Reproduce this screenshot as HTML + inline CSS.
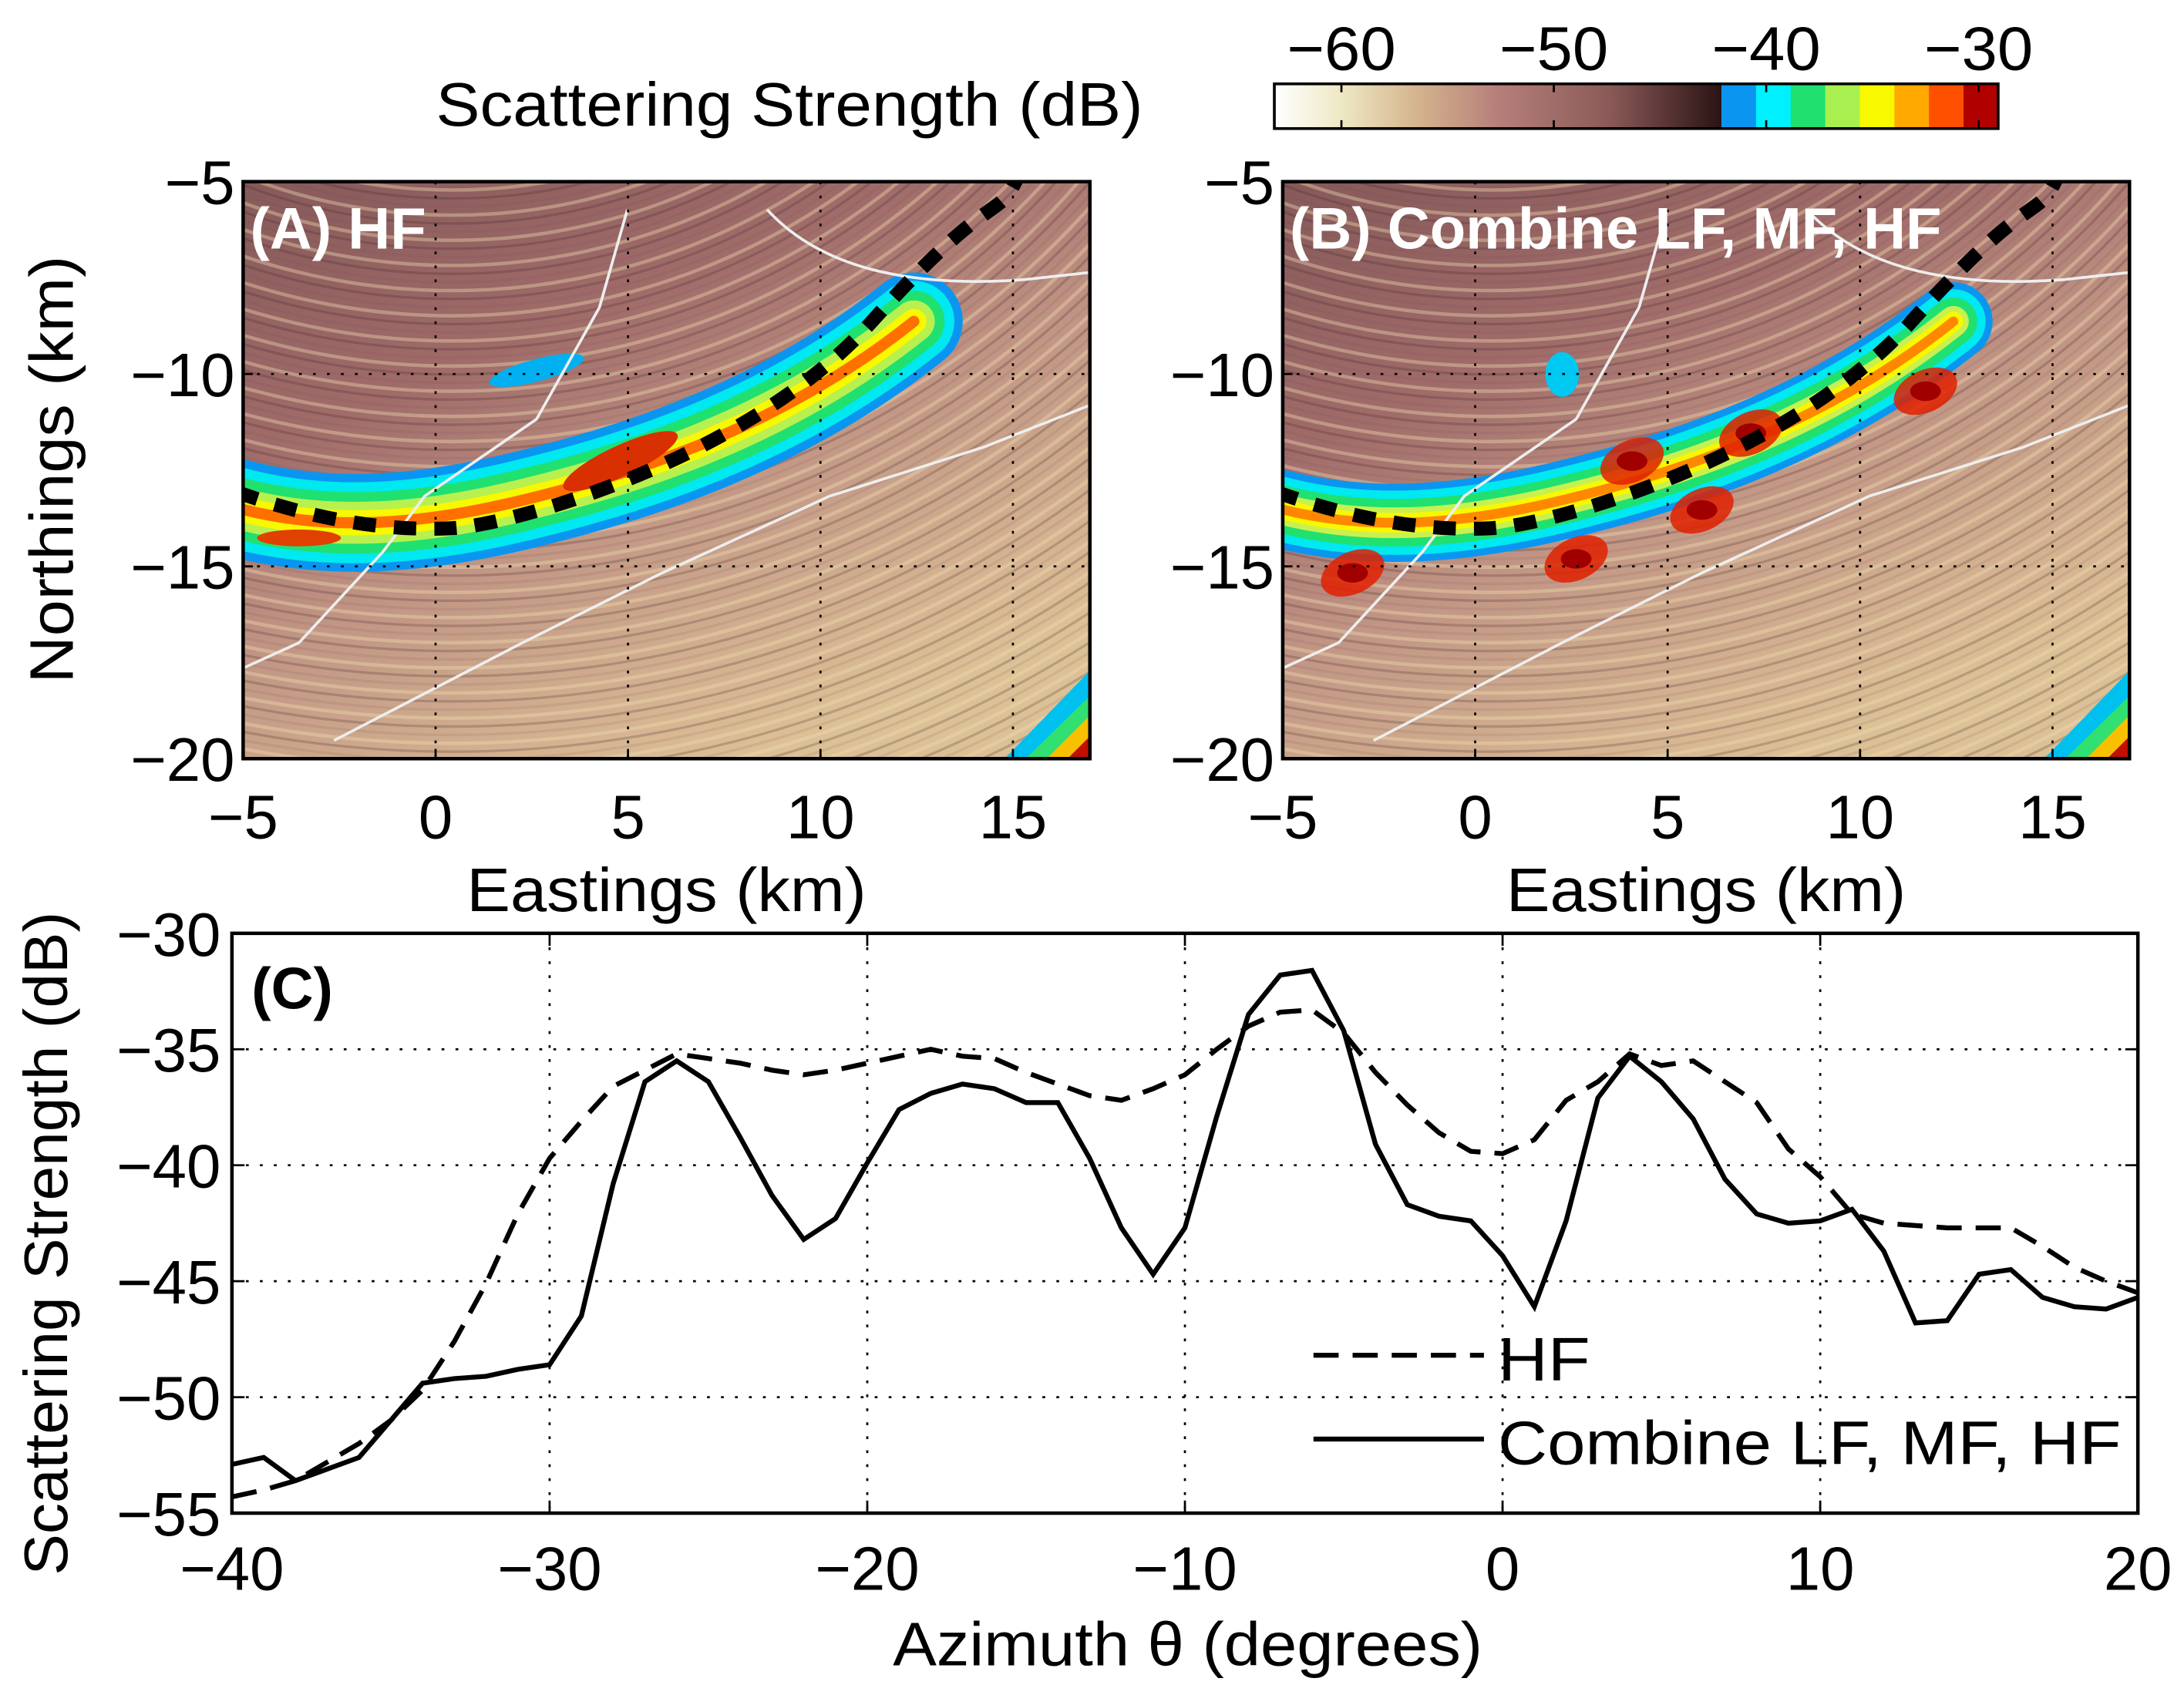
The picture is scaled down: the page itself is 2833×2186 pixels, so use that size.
<!DOCTYPE html>
<html><head><meta charset="utf-8"><style>
html,body{margin:0;padding:0;background:#fff}
svg{display:block}
text{font-family:"Liberation Sans",sans-serif}
</style></head><body>
<svg id="fig" width="2833" height="2186" viewBox="0 0 1563 1206" xmlns="http://www.w3.org/2000/svg">
<defs>
<linearGradient id="cbg" x1="0" x2="1" y1="0" y2="0">
<stop offset="0" stop-color="#ffffff"/><stop offset="0.15" stop-color="#eee8c4"/><stop offset="0.32" stop-color="#d4b48e"/><stop offset="0.5" stop-color="#b67f7a"/><stop offset="0.75" stop-color="#8a5a58"/><stop offset="1" stop-color="#2a1414"/>
</linearGradient>
<linearGradient id="bgA" x1="0" y1="0" x2="0.6" y2="1">
<stop offset="0" stop-color="#86595a"/><stop offset="0.35" stop-color="#a06c6a"/><stop offset="0.6" stop-color="#c09484"/><stop offset="1" stop-color="#dcc096"/>
</linearGradient>
<clipPath id="clipA"><rect x="174" y="130" width="606" height="413"/></clipPath>
<clipPath id="clipB"><rect x="918" y="130" width="606" height="413"/></clipPath>
</defs>

<g id="panelA"></g>
<g id="panelB"></g>

<g>
<text x="565" y="90" font-size="44" text-anchor="middle" textLength="506" lengthAdjust="spacingAndGlyphs">Scattering Strength (dB)</text>
<rect x="912" y="60" width="320" height="32" fill="url(#cbg)"/>
<g id="cbDisc"></g>
<rect x="912" y="60" width="518" height="32" fill="none" stroke="#000" stroke-width="2"/>
<g id="cbTicks"></g>
</g>

<g id="panelC"></g>
</svg>
<script>
const NS="http://www.w3.org/2000/svg";
const svg=document.getElementById('fig');
function el(tag,attrs,parent){const e=document.createElementNS(NS,tag);for(const k in attrs)e.setAttribute(k,attrs[k]);(parent||svg).appendChild(e);return e;}

const cbTickVals=[-60,-50,-40,-30];
const cbColors=["#0a96f0","#00f0ff","#20e070","#a8f050","#f8f800","#ffa800","#ff5000","#b00000"];
const cbX=v=>960+(v+60)*15.2;
const cbDisc=document.getElementById('cbDisc');
cbColors.forEach((c,i)=>{const w=(1430-1232)/cbColors.length;
 const r=el('rect',{x:1232+i*w,y:60,width:w+0.5,height:32,fill:c},cbDisc);
 
 });
const cbT=document.getElementById('cbTicks');
cbTickVals.forEach(v=>{
 el('line',{x1:cbX(v),x2:cbX(v),y1:60,y2:66,stroke:'#000','stroke-width':1.5},cbT);
 el('line',{x1:cbX(v),x2:cbX(v),y1:92,y2:86,stroke:'#000','stroke-width':1.5},cbT);
 const t=el('text',{x:cbX(v),y:50,'font-size':44,'text-anchor':'middle',textLength:78,lengthAdjust:'spacingAndGlyphs'},cbT);
 t.textContent='\u2212'+Math.abs(v);
 
 
});

const mapXTicks=[-5,0,5,10,15];
const mapYTicks=[-5,-10,-15,-20];
function drawMap(gid,x0,clip,label,combined){
 const g=document.getElementById(gid);
 const W=606,H=413,y0=130;
 const X=v=>x0+(v+5)/22*W, Y=v=>y0+(-5-v)/15*H;
 const c=el('g',{'clip-path':'url(#'+clip+')'},g);
 el('rect',{x:x0,y:y0,width:W,height:H,fill:'url(#bgA)'},c);
 const cx=x0+150, cy=-260;
 for(let r=300;r<1100;r+=6){
  const k=r%18;
  const light=(k===0), dark=(k===6);
  el('circle',{cx:cx,cy:cy,r:r,fill:'none',stroke:light?'#f0dcb0':(dark?'#3a2020':'#7a4a48'),'stroke-opacity':light?0.4:(dark?0.22:0.12),'stroke-width':light?2.5:1.8},c);
 }
 const band=`M${x0-10},${y0+232} C${x0+60},${y0+252} ${x0+130},${y0+245} ${x0+200},${y0+228} S${x0+380},${y0+180} ${x0+480},${y0+100}`;
 const bandCols=combined?[['#0a96f0',56],['#00e8f0',46],['#20e070',34],['#c8f050',22],['#f8f800',14],['#ff8800',7]]
   :[['#0a96f0',70],['#00e8f0',58],['#20e070',44],['#b8f050',30],['#f8f800',18],['#ff7000',8]];
 bandCols.forEach(([col,w])=>el('path',{d:band,fill:'none',stroke:col,'stroke-width':w,'stroke-linecap':'round'},c));
 if(combined){
  [[x0+250,y0+200],[x0+335,y0+180],[x0+300,y0+235],[x0+460,y0+150],[x0+50,y0+280],[x0+210,y0+270]].forEach(([a,b])=>{
   el('ellipse',{cx:a,cy:b,rx:24,ry:15,fill:'#e02000','fill-opacity':0.85,transform:`rotate(-25 ${a} ${b})`},c);
   el('ellipse',{cx:a,cy:b,rx:11,ry:7,fill:'#a00000'},c);});
  el('ellipse',{cx:x0+200,cy:y0+138,rx:12,ry:16,fill:'#00c8f0'},c);
 } else {
  el('ellipse',{cx:x0+270,cy:y0+200,rx:45,ry:11,fill:'#d83000',transform:`rotate(-25 ${x0+270} ${y0+200})`},c);
  el('ellipse',{cx:x0+40,cy:y0+255,rx:30,ry:6,fill:'#e04000'},c);
  el('ellipse',{cx:x0+210,cy:y0+135,rx:35,ry:8,fill:'#00b0f0',transform:`rotate(-15 ${x0+210} ${y0+135})`},c);
 }
 el('path',{d:`M${x0+545},${y0+413} L${x0+606},${y0+350} L${x0+606},${y0+413}Z`,fill:'#00c0f0'},c);
 el('path',{d:`M${x0+560},${y0+413} L${x0+606},${y0+368} L${x0+606},${y0+413}Z`,fill:'#30e070'},c);
 el('path',{d:`M${x0+575},${y0+413} L${x0+606},${y0+382} L${x0+606},${y0+413}Z`,fill:'#f8c000'},c);
 el('path',{d:`M${x0+590},${y0+413} L${x0+606},${y0+397} L${x0+606},${y0+413}Z`,fill:'#c01000'},c);
 const cs={stroke:'#eeeeee','stroke-width':2,fill:'none'};
 el('path',Object.assign({d:`M${x0+275},${y0+20} L${x0+255},${y0+90} L${x0+210},${y0+170} L${x0+130},${y0+225} L${x0+100},${y0+265} L${x0+40},${y0+330} L${x0-15},${y0+355}`},cs),c);
 el('path',Object.assign({d:`M${x0+375},${y0+20} Q${x0+430},${y0+80} ${x0+560},${y0+70} L${x0+606},${y0+65}`},cs),c);
 el('path',Object.assign({d:`M${x0+65},${y0+400} L${x0+200},${y0+330} L${x0+300},${y0+280} L${x0+420},${y0+225} L${x0+530},${y0+190} L${x0+606},${y0+160}`},cs),c);
 el('path',{d:`M${x0-5},${y0+222} C${x0+60},${y0+245} ${x0+110},${y0+250} ${x0+150},${y0+248} S${x0+360},${y0+200} ${x0+450},${y0+100} S${x0+540},${y0+30} ${x0+555},${y0-5}`,fill:'none',stroke:'#000','stroke-width':10,'stroke-dasharray':'16 13'},c);
 mapXTicks.slice(1).forEach(v=>el('line',{x1:X(v),x2:X(v),y1:y0,y2:y0+H,stroke:'#000','stroke-width':1.5,'stroke-dasharray':'2 8'},g));
 [-10,-15].forEach(v=>el('line',{x1:x0,x2:x0+W,y1:Y(v),y2:Y(v),stroke:'#000','stroke-width':1.5,'stroke-dasharray':'2 8'},g));
 el('rect',{x:x0,y:y0,width:W,height:H,fill:'none',stroke:'#000','stroke-width':2.5},g);
 const lab=el('text',{x:x0+5,y:y0+48,'font-size':42,'font-weight':'bold',fill:'#fff'},g);
 lab.textContent=label;
 
 
 mapXTicks.forEach(v=>{
  el('line',{x1:X(v),x2:X(v),y1:y0+H,y2:y0+H-7,stroke:'#000','stroke-width':1.5},g);
  const t=el('text',{x:X(v),y:600,'font-size':44,'text-anchor':'middle'},g);
  t.textContent=(v<0?'\u2212':'')+Math.abs(v);
  
  
 });
 mapYTicks.forEach(v=>{
  el('line',{x1:x0,x2:x0+7,y1:Y(v),y2:Y(v),stroke:'#000','stroke-width':1.5},g);
  const t=el('text',{x:x0-6,y:Y(v)+16,'font-size':44,'text-anchor':'end'},g);
  t.textContent='\u2212'+Math.abs(v);
  
  
 });
 const xt=el('text',{x:x0+303,y:652,'font-size':44,'text-anchor':'middle',textLength:286,lengthAdjust:'spacingAndGlyphs'},g);
 xt.textContent='Eastings (km)';
 
 
}
drawMap('panelA',174,'clipA','(A) HF',false);
drawMap('panelB',918,'clipB','(B) Combine LF, MF, HF',true);
{const t=el('text',{x:0,y:0,'font-size':44,'text-anchor':'middle',textLength:306,lengthAdjust:'spacingAndGlyphs',transform:'translate(52,336) rotate(-90)'},document.getElementById('panelA'));
 t.textContent='Northings (km)';
 
 }

const azimuth=[-40,-39,-38,-37,-36,-35,-34,-33,-32,-31,-30,-29,-28,-27,-26,-25,-24,-23,-22,-21,-20,-19,-18,-17,-16,-15,-14,-13,-12,-11,-10,-9,-8,-7,-6,-5,-4,-3,-2,-1,0,1,2,3,4,5,6,7,8,9,10,11,12,13,14,15,16,17,18,19,20];
const combined=[-52.9,-52.6,-53.6,-53.1,-52.6,-51.0,-49.4,-49.2,-49.1,-48.8,-48.6,-46.5,-40.8,-36.4,-35.5,-36.4,-38.8,-41.3,-43.2,-42.3,-39.9,-37.6,-36.9,-36.5,-36.7,-37.3,-37.3,-39.7,-42.7,-44.7,-42.7,-37.9,-33.5,-31.8,-31.6,-34.2,-39.1,-41.7,-42.2,-42.4,-43.9,-46.1,-42.4,-37.1,-35.3,-36.4,-38.0,-40.6,-42.1,-42.5,-42.4,-41.9,-43.7,-46.8,-46.7,-44.7,-44.5,-45.7,-46.1,-46.2,-45.7];
const hf=[-54.3,-54.0,-53.6,-52.8,-52.0,-51.0,-49.7,-47.6,-45.1,-42.1,-39.7,-38.1,-36.6,-35.9,-35.2,-35.4,-35.6,-35.9,-36.1,-35.9,-35.6,-35.3,-35.0,-35.3,-35.4,-36.0,-36.5,-37.0,-37.2,-36.7,-36.1,-35.0,-34.0,-33.4,-33.3,-34.3,-36.0,-37.4,-38.6,-39.4,-39.5,-38.9,-37.2,-36.4,-35.2,-35.7,-35.5,-36.4,-37.3,-39.3,-40.5,-42.1,-42.5,-42.6,-42.7,-42.7,-42.7,-43.5,-44.4,-45.0,-45.5];
const cXTicks=[-40,-30,-20,-10,0,10,20];
const cYTicks=[-30,-35,-40,-45,-50,-55];
const cx0=166,cx1=1530,cy0=668,cy1=1083;
const CX=v=>cx0+(v+40)/60*(cx1-cx0);
const CY=v=>cy0+(-30-v)/25*(cy1-cy0);
const gC=document.getElementById('panelC');
cXTicks.slice(1,-1).forEach(v=>el('line',{x1:CX(v),x2:CX(v),y1:cy0,y2:cy1,stroke:'#000','stroke-width':1.5,'stroke-dasharray':'2 8'},gC));
cYTicks.slice(1,-1).forEach(v=>el('line',{x1:cx0,x2:cx1,y1:CY(v),y2:CY(v),stroke:'#000','stroke-width':1.5,'stroke-dasharray':'2 8'},gC));
el('rect',{x:cx0,y:cy0,width:cx1-cx0,height:cy1-cy0,fill:'none',stroke:'#000','stroke-width':2.5},gC);
cXTicks.forEach(v=>{
 el('line',{x1:CX(v),x2:CX(v),y1:cy1,y2:cy1-9,stroke:'#000','stroke-width':1.5},gC);
 el('line',{x1:CX(v),x2:CX(v),y1:cy0,y2:cy0+9,stroke:'#000','stroke-width':1.5},gC);
 const t=el('text',{x:CX(v),y:1138,'font-size':44,'text-anchor':'middle'},gC);
 t.textContent=(v<0?'\u2212':'')+Math.abs(v);
 
 
});
cYTicks.forEach(v=>{
 el('line',{x1:cx0,x2:cx0+9,y1:CY(v),y2:CY(v),stroke:'#000','stroke-width':1.5},gC);
 el('line',{x1:cx1,x2:cx1-9,y1:CY(v),y2:CY(v),stroke:'#000','stroke-width':1.5},gC);
 const t=el('text',{x:cx0-8,y:CY(v)+16,'font-size':44,'text-anchor':'end'},gC);
 t.textContent='\u2212'+Math.abs(v);
 
 
});
function pts(arr){return azimuth.map((a,i)=>CX(a)+','+CY(arr[i])).join(' ');}
const lh=el('polyline',{points:pts(hf),fill:'none',stroke:'#000','stroke-width':3.5,'stroke-dasharray':'18 10'},gC);


const lc=el('polyline',{points:pts(combined),fill:'none',stroke:'#000','stroke-width':3.5},gC);


const pl=el('text',{x:180,y:722,'font-size':42,'font-weight':'bold'},gC);
pl.textContent='(C)';


el('line',{x1:940,x2:1062,y1:970,y2:970,stroke:'#000','stroke-width':3.5,'stroke-dasharray':'18 10'},gC);
el('line',{x1:940,x2:1062,y1:1030,y2:1030,stroke:'#000','stroke-width':3.5},gC);
const l1=el('text',{x:1072,y:988,'font-size':44,textLength:66,lengthAdjust:'spacingAndGlyphs'},gC);
l1.textContent='HF';


const l2=el('text',{x:1072,y:1048,'font-size':44,textLength:446,lengthAdjust:'spacingAndGlyphs'},gC);
l2.textContent='Combine LF, MF, HF';


const xc=el('text',{x:850,y:1192,'font-size':44,'text-anchor':'middle',textLength:422,lengthAdjust:'spacingAndGlyphs'},gC);
xc.textContent='Azimuth \u03b8 (degrees)';


const yc=el('text',{x:0,y:0,'font-size':44,'text-anchor':'middle',textLength:475,lengthAdjust:'spacingAndGlyphs',transform:'translate(48,890) rotate(-90)'},gC);
yc.textContent='Scattering Strength (dB)';


</script>
</body></html>
